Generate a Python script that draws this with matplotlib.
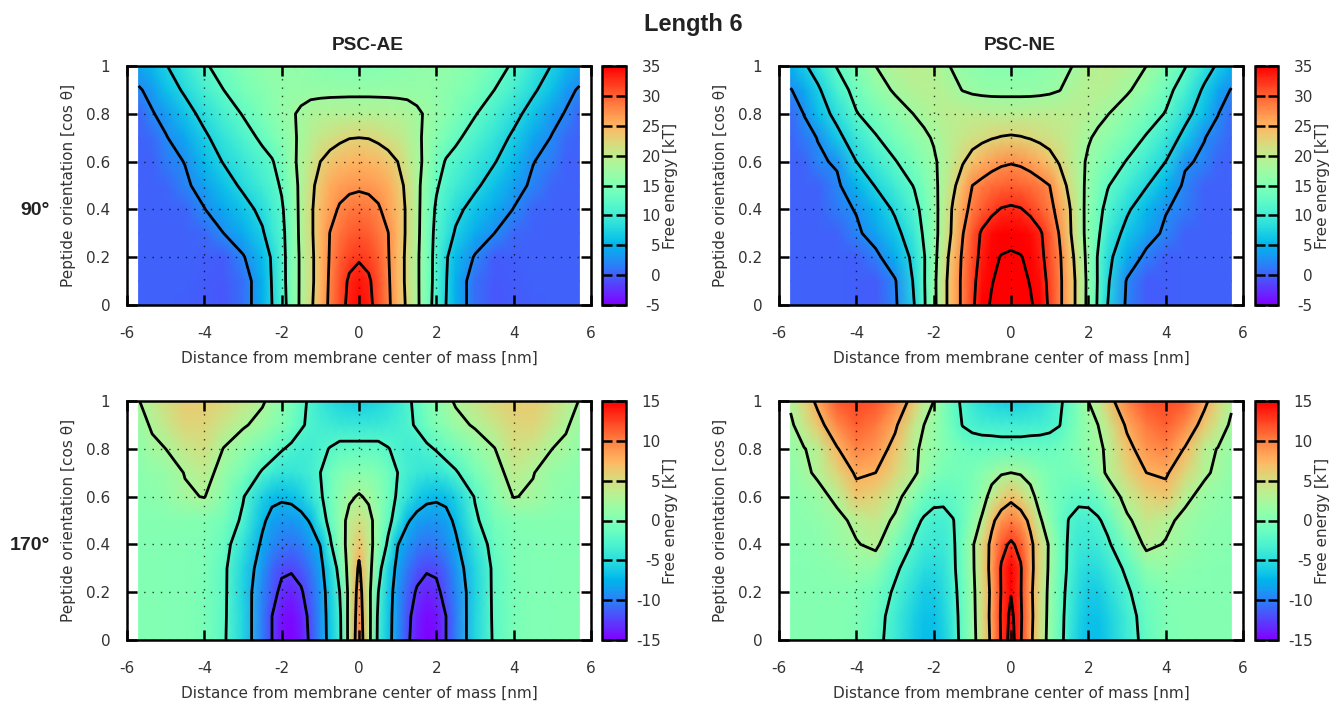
import numpy as np
import matplotlib
matplotlib.use('Agg')
import matplotlib.pyplot as plt

plt.rcParams['font.family'] = 'DejaVu Sans'
plt.rcParams['axes.unicode_minus'] = False

W, H = 1333, 702

# distancia (metade positiva, o perfil e espelhado em x = 0) e orientacao
dist = [0, .25, .5, .75, 1, 1.25, 1.5, 1.75, 2, 2.25, 2.5, 3, 3.5, 4, 4.5, 5, 5.35, 5.7]
cos_theta = [0, .1, .2, .3, .4, .5, .6, .7, .8, .9, 1]

# energia livre [kT], uma linha por valor de cos_theta
ae_90 = [
    [34.5, 33.5, 31, 28.3, 25, 21.8, 18.3, 14.5, 10.7, 7.5, 4.7, .8, -.5, -.3, -.1, 0, 0, 0],
    [34, 33, 30.8, 28.1, 24.7, 21.5, 18.2, 14.7, 11, 7.7, 4.7, .8, -.4, -.2, 0, 0, 0, 0],
    [32.1, 31.5, 30, 27.8, 24.7, 21.5, 18.2, 14.7, 11.1, 7.9, 5.5, 2.2, -.2, -.1, 0, 0, 0, 0],
    [30.5, 30.1, 29, 27.6, 24.8, 21.8, 18.5, 14.7, 11.5, 9.3, 7.1, 4.5, 2.5, .4, 0, 0, 0, 0],
    [29, 28.7, 27.9, 26.3, 24.5, 21.9, 18.6, 14.9, 12, 10.3, 8.4, 6.2, 4.3, 2.4, .3, 0, 0, 0],
    [27, 26.8, 26.3, 25.5, 23.7, 21.7, 18.5, 15.5, 12.9, 11.3, 10.2, 8.1, 6, 3.6, 2, .2, 0, 0],
    [25, 24.8, 24.4, 23.7, 22.5, 20.5, 18.5, 16.5, 14.2, 12.2, 11.4, 9.5, 7.7, 5.5, 2.6, 1.5, .1, 0],
    [22.5, 22.4, 21.9, 21.2, 20.5, 19.5, 18.1, 16.8, 15.6, 14.3, 13.1, 11.1, 9.1, 6.9, 4.1, 2.3, .6, 0],
    [19.2, 19.2, 19.1, 19, 18.8, 18.5, 17.9, 17.2, 16.5, 15.7, 14.7, 12.7, 10.7, 8.5, 6.2, 3.4, 2.3, .3],
    [16.8, 16.8, 16.8, 16.8, 16.8, 16.8, 16.7, 16.6, 16.4, 16, 15.5, 14.3, 12.5, 10.5, 8, 5.8, 3.3, 2.2],
    [15.3, 15.3, 15.4, 15.5, 15.7, 16, 16.3, 16.5, 16.6, 16.5, 16.2, 15.2, 13.7, 12.1, 9.5, 7.3, 5.6, 4],
]
ne_90 = [
    [44.5, 41.5, 38.3, 35, 31.8, 28.3, 25, 21, 16.3, 12, 7.5, 1.9, -.2, -.1, 0, 0, 0, 0],
    [41.5, 39.5, 37.1, 34.3, 31.5, 28.3, 25, 21, 16.4, 12.2, 8, 2.2, -.2, -.1, 0, 0, 0, 0],
    [38.3, 37.8, 36.1, 33.5, 31, 28.1, 24.4, 20.5, 16.1, 12.2, 8.5, 4.6, 1.7, -.1, 0, 0, 0, 0],
    [35.5, 35.1, 34.5, 33, 30.5, 27.3, 23.3, 19.5, 16, 13.1, 9.8, 6.4, 3.9, 1.9, .1, 0, 0, 0],
    [33, 32.7, 31.7, 30.3, 28.5, 26.3, 23, 19.3, 16.1, 13.5, 11.5, 8, 5.4, 2.7, 1.5, .1, 0, 0],
    [30.1, 29.8, 29.3, 28.5, 27.5, 24.6, 21.7, 18.9, 16.5, 14.5, 12.7, 10.3, 7.7, 5.1, 1.9, .1, 0, 0],
    [27.2, 26.9, 26.2, 25.2, 23.8, 22.2, 20.4, 18.5, 17, 15.7, 14.5, 12.3, 9.9, 7.5, 2.9, 2, .2, 0],
    [22.9, 22.7, 22.3, 21.7, 21.2, 20.5, 19.7, 18.8, 17.8, 16.9, 16.1, 14.3, 12.2, 9.5, 6.5, 2.6, 1.5, .2],
    [19.5, 19.5, 19.6, 19.7, 19.8, 19.8, 19.7, 19.5, 19, 18.3, 17.6, 16, 14.2, 12.3, 8.5, 5.7, 2.6, .6],
    [16.7, 16.7, 16.7, 16.8, 17, 17.4, 18.3, 19, 19.3, 19.3, 19.1, 17.9, 16.1, 13.7, 10.7, 6.9, 4.3, 2.3],
    [15.5, 15.5, 15.6, 15.8, 16.1, 16.5, 17.2, 18.1, 19.1, 19.5, 19.7, 19.1, 17.5, 15.3, 12.7, 9.2, 7, 5],
]
ae_170 = [
    [10, 3.8, -3.4, -6.5, -9.2, -12, -14, -15, -14.5, -12.5, -10, -5.5, -2.1, -.4, 0, .1, .15, .2],
    [9.5, 3.8, -3.2, -6.4, -9.1, -11.8, -13.7, -14.6, -14.2, -12.5, -10, -5.5, -2, -.4, 0, .1, .15, .2],
    [9, 3.6, -2.5, -6.1, -9, -11.2, -12.8, -13.6, -13.2, -11.5, -9.7, -5.7, -1.9, -.3, 0, .1, .15, .2],
    [8, 4, -1.2, -5.5, -8.3, -10.3, -11.6, -12.2, -12, -10.9, -9, -5.4, -1.9, -.2, 0, .1, .15, .2],
    [6.5, 4, .4, -3, -7.4, -8.9, -10, -10.5, -10.2, -9.4, -8, -4.5, -1.4, -.1, .1, .2, .2, .2],
    [4.8, 3.5, 1, -1.6, -4, -7.2, -8.4, -8.8, -8.8, -8.4, -7, -3, -.6, .2, .3, .3, .3, .3],
    [2.8, 2, .6, -1, -2.9, -4.5, -6, -6.9, -7.1, -6.8, -5.8, -2.3, .4, 2.6, 2.2, 1, .7, .5],
    [.5, .4, -.1, -1, -2.5, -3.4, -4, -4.4, -4.4, -3.8, -2.8, -.5, 1.4, 3.6, 2.6, 1.4, 1, .6],
    [-1.7, -1.7, -1.8, -2.4, -3, -3.6, -3.6, -3, -2.3, -1.3, -.6, 1, 2.4, 4.8, 4, 2.5, 2, 1],
    [-4.2, -4.2, -4, -3.8, -3.5, -3, -2.2, -1, 0, .7, 1.7, 2.8, 4.2, 5.5, 5.6, 4, 2.8, 1.6],
    [-6, -5.9, -5.6, -5, -4, -3, -1.8, -.5, .6, 1.8, 2.8, 4.3, 5.4, 6.2, 6.2, 5, 3.7, 2.4],
]
ne_170 = [
    [20, 12.8, 8.2, 4.8, 1.2, -1.4, -4, -6, -7, -7, -6.2, -3.8, -1.6, -.2, .2, .3, .3, .3],
    [19, 13, 8.4, 5, 1.4, -1.3, -3.8, -5.7, -6.7, -6.7, -5.9, -3.6, -1.4, -.1, .2, .3, .3, .3],
    [17.2, 12.7, 8.2, 5, 1.6, -1.2, -3.4, -5.2, -6.2, -6.2, -5.2, -2.9, -.9, .1, .3, .3, .3, .3],
    [15.5, 12.8, 8.5, 5.3, 1.9, -1, -3, -4.6, -5.2, -5, -4, -2, .6, 1.2, .7, .4, .35, .3],
    [13, 11.6, 8.3, 5.4, 2, -.8, -2.9, -3.9, -4.1, -3.8, -2.9, -.4, 3.2, 2.3, 1.4, .7, .5, .4],
    [10, 9, 6.8, 2.9, .7, -1.3, -2.6, -3.3, -3.3, -2.8, -1.8, 2, 4, 3.2, 1.7, .9, .7, .5],
    [6.7, 5.6, 3.6, 1.2, -.2, -1, -1.6, -1.9, -1.8, -1.1, .5, 3.6, 5.6, 6.4, 3.2, 1.5, 1, .6],
    [2.5, 2.2, 1.4, .4, -.3, -.7, -.7, -.5, .3, 1.3, 3, 5.6, 7.5, 7.9, 5.4, 3, 1.9, .9],
    [-1.4, -1.4, -1.3, -1.3, -1.3, -.9, -.4, .3, 1.1, 1.9, 3, 6.6, 9, 9.8, 7.3, 3.3, 2.4, 1.3],
    [-3.6, -3.6, -3.5, -3.4, -3.1, -2.6, -1.2, 0, 1.5, 2.5, 4, 8, 10.3, 11.3, 9.6, 6.4, 4.2, 2],
    [-6, -5.9, -5.6, -5, -4, -2.9, -1.7, .1, 2.5, 3.5, 6.3, 9.8, 11.8, 12.2, 11.5, 8.2, 5.6, 3],
]

levels_90 = [2.5, 7.5, 12.5, 17.5, 22.5, 27.5, 32.5, 37.5]
levels_170 = [-12.5, -7.5, -2.5, 2.5, 7.5, 12.5, 17.5]
xticks = [-6, -4, -2, 0, 2, 4, 6]
yticks = [0, .2, .4, .6, .8, 1]
yticklabels = ['0', '0.2', '0.4', '0.6', '0.8', '1']
col_titles = ['PSC-AE', 'PSC-NE']
row_titles = ['90°', '170°']

TEXT = '#333333'
BOLD = 'Liberation Sans'


def px_axes(fig, left, top, right, bottom):
    return fig.add_axes([left / W, 1 - bottom / H, (right - left) / W, (bottom - top) / H])


def panel(fig, z, box, cbox, levels, vmin, vmax):
    ax = px_axes(fig, *box)
    x = np.array(dist)
    x_full = np.concatenate((-x[:0:-1], x))
    z = np.array(z)
    z_full = np.hstack((z[:, :0:-1], z))
    mesh = ax.pcolormesh(x_full, cos_theta, z_full, cmap='rainbow', vmin=vmin, vmax=vmax,
                         shading='gouraud', zorder=1)
    ax.contour(x_full, cos_theta, z_full, levels=levels, colors='black', linewidths=2,
               linestyles='solid', zorder=3)
    ax.set_xlim(-6, 6)
    ax.set_ylim(0, 1)
    ax.set_xticks(xticks)
    ax.set_yticks(yticks)
    ax.set_yticklabels(yticklabels)
    ax.tick_params(direction='in', length=7, width=1.8, top=True, right=True, zorder=5,
                   labelsize=11, labelcolor=TEXT)
    ax.tick_params(axis='x', pad=15)
    ax.tick_params(axis='y', pad=12)
    ax.grid(True, color='black', alpha=.75, linestyle=(0, (1, 5)), linewidth=1, zorder=2)
    ax.set_axisbelow(False)
    for s in ax.spines.values():
        s.set_linewidth(1.8)
        s.set_zorder(6)
    ax.set_xlabel('Distance from membrane center of mass [nm]', fontsize=11, color=TEXT, va='center')
    ax.xaxis.set_label_coords(.5, -53 / 239)
    ax.set_ylabel('Peptide orientation [cos θ]', fontsize=11, color=TEXT, va='center')
    ax.yaxis.set_label_coords(-59 / 464, .5)

    cax = px_axes(fig, *cbox)
    cb = fig.colorbar(mesh, cax=cax)
    cb.set_ticks(np.arange(vmin, vmax + 1, 5))
    cb.ax.tick_params(direction='in', length=7, width=1.8, left=True, right=True,
                      labelsize=11, labelcolor=TEXT, pad=25)
    for lab in cb.ax.get_yticklabels():
        lab.set_ha('right')
    cb.outline.set_linewidth(1.8)
    cb.set_label('Free energy [kT]', fontsize=11, color=TEXT, va='center')
    cb.ax.yaxis.set_label_coords(1 + 44 / (cbox[2] - cbox[0]), .5)
    return ax


fig = plt.figure(figsize=(W / 100, H / 100), dpi=100)

panel(fig, ae_90, (127, 66, 591, 305), (602, 66, 626, 305), levels_90, -5, 35)
panel(fig, ne_90, (779, 66, 1243, 305), (1255, 66, 1278, 305), levels_90, -5, 35)
panel(fig, ae_170, (127, 401, 591, 640), (602, 401, 626, 640), levels_170, -15, 15)
panel(fig, ne_170, (779, 401, 1243, 640), (1255, 401, 1278, 640), levels_170, -15, 15)

fig.text(693 / W, 1 - 24 / H, 'Length 6', ha='center', va='center', fontsize=17,
         fontweight='bold', family=BOLD, color='#222222')
fig.text(367.5 / W, 1 - 45 / H, col_titles[0], ha='center', va='center', fontsize=13.8,
         fontweight='bold', family=BOLD, color='#222222')
fig.text(1020 / W, 1 - 45 / H, col_titles[1], ha='center', va='center', fontsize=13.8,
         fontweight='bold', family=BOLD, color='#222222')
fig.text(50 / W, 1 - 210 / H, row_titles[0], ha='right', va='center', fontsize=14,
         fontweight='bold', family=BOLD, color='#222222')
fig.text(50 / W, 1 - 545 / H, row_titles[1], ha='right', va='center', fontsize=14,
         fontweight='bold', family=BOLD, color='#222222')

fig.savefig('out.png', dpi=100)
